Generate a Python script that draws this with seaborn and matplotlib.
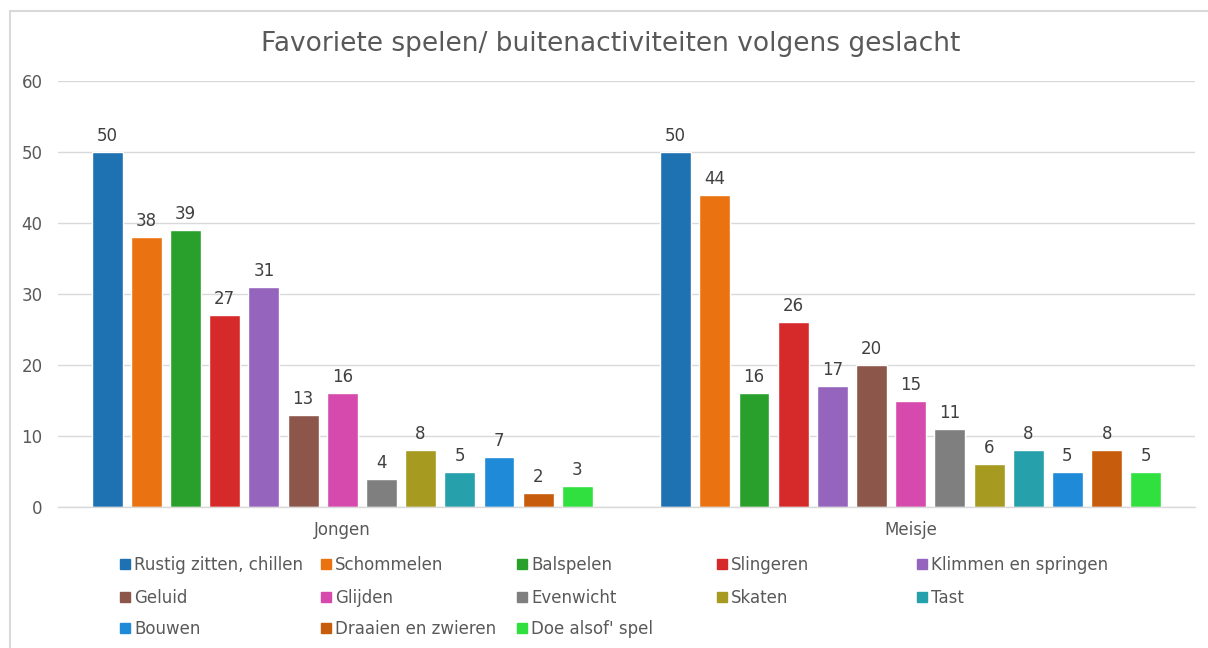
import matplotlib
matplotlib.use("Agg")
import matplotlib.pyplot as plt
from matplotlib.lines import Line2D
from matplotlib.patches import Rectangle
import seaborn as sns
import pandas as pd

title = "Favoriete spelen/ buitenactiviteiten volgens geslacht"
groups = ["Jongen", "Meisje"]
activities = ["Rustig zitten, chillen", "Schommelen", "Balspelen", "Slingeren",
              "Klimmen en springen", "Geluid", "Glijden", "Evenwicht", "Skaten",
              "Tast", "Bouwen", "Draaien en zwieren", "Doe alsof' spel"]
jongen = [50, 38, 39, 27, 31, 13, 16, 4, 8, 5, 7, 2, 3]
meisje = [50, 44, 16, 26, 17, 20, 15, 11, 6, 8, 5, 8, 5]
colors = ["#1f72b2", "#ea7210", "#2aa02c", "#d62a2a", "#9565bd", "#8c564b",
          "#d64aad", "#7f7f7f", "#a79a20", "#26a0ab", "#1f8ad8", "#c75c0c", "#2fe03e"]

rows = []
for g, vals in zip(groups, [jongen, meisje]):
    for a, v in zip(activities, vals):
        rows.append({"Geslacht": g, "Activiteit": a, "Aantal": v})
df = pd.DataFrame(rows)

sns.set_theme(style="white")
plt.rcParams["font.family"] = ["DejaVu Sans"]

fig = plt.figure(figsize=(12.08, 6.48), dpi=100)
ax = fig.add_axes([58/1208, 1-507/648, (1195-58)/1208, (507-81)/648])

sns.barplot(data=df, x="Geslacht", y="Aantal", hue="Activiteit", order=groups,
            hue_order=activities, palette=colors, width=0.896, gap=0.21,
            saturation=1, ax=ax, legend=False, errorbar=None)

for cont in ax.containers:
    ax.bar_label(cont, padding=5, fontsize=12, color="#404040")

ax.set_xlim(-0.5, 1.5)
ax.set_ylim(0, 60)
ax.set_yticks(range(0, 61, 10))
ax.yaxis.grid(True, color="#d9d9d9", linewidth=1)
ax.set_axisbelow(True)
for s in ["top", "right", "left"]:
    ax.spines[s].set_visible(False)
ax.spines["bottom"].set_color("#d9d9d9")
ax.spines["bottom"].set_linewidth(1)
ax.tick_params(axis="both", length=0, labelsize=12, labelcolor="#595959")
ax.tick_params(axis="y", pad=11)
ax.tick_params(axis="x", pad=10)
ax.set_xlabel("")
ax.set_ylabel("")

fig.text(611/1208, 1-44/648, title, ha="center", va="center", fontsize=19, color="#595959")

# legend, row-major like the original, one entry at a time
col_x = [120, 321, 517, 717, 917]
row_y = [565, 598, 629]
for i, (lab, col) in enumerate(zip(activities, colors)):
    r, c = divmod(i, 5)
    h = Line2D([], [], marker="s", linestyle="none", markersize=6.5, color=col)
    fig.legend([h], [lab], loc="center left",
               bbox_to_anchor=(col_x[c]/1208, 1-row_y[r]/648),
               frameon=False, fontsize=12, borderpad=0, borderaxespad=0,
               handlelength=0.6, handletextpad=0.25, labelcolor="#595959")

fig.patches.append(Rectangle((10/1208, -0.1), 1.2, 1.1-11/648, transform=fig.transFigure,
                             fill=False, edgecolor="#d9d9d9", linewidth=1.5))

fig.savefig("out.png", dpi=100)
